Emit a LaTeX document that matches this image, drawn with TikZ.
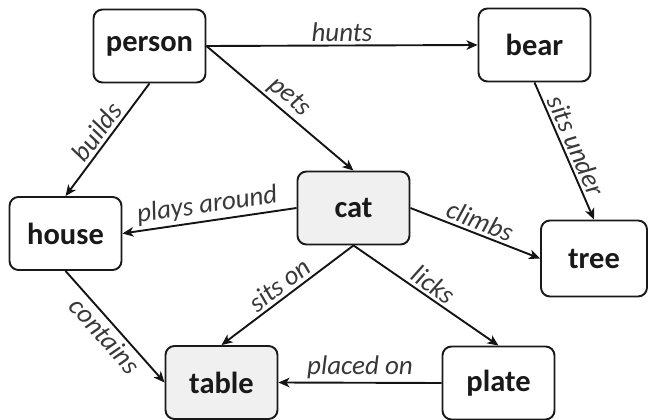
\documentclass[tikz,border=0pt]{standalone}
\usepackage{fontspec}
\setmainfont{Carlito}
\usetikzlibrary{arrows.meta}
\definecolor{boxfill}{gray}{0.94}
\definecolor{labelgray}{gray}{0.22}
\tikzset{
  concept/.style={draw=black!90, line width=1.9pt, rounded corners=9pt,
    minimum width=112pt, minimum height=73pt, inner sep=0pt,
    font=\fontsize{30.5}{35}\selectfont\bfseries, text=black!90},
  shaded/.style={concept, fill=boxfill},
  rel/.style={line width=1.9pt, draw=black!92,
    -{Stealth[length=11pt,width=9.5pt,inset=3pt]}},
  rlabel/.style={midway, above, sloped, inner sep=3pt,
    font=\fontsize{27}{32}\selectfont\itshape, text=labelgray},
}
\begin{document}
\begin{tikzpicture}[x=1pt,y=-1pt]
  \useasboundingbox (0,0) rectangle (649,420);
  % concepts
  \node[concept] (person) at (149.5,46) {person};
  \node[concept] (bear)   at (534.5,45) {bear};
  \node[concept] (house)  at (65.5,233.5) {house};
  \node[shaded]  (cat)    at (353.5,208) {cat};
  \node[concept, minimum width=106pt, minimum height=76pt] (tree) at (594,258.5) {tree};
  \node[shaded]  (table)  at (221.5,382.5) {table};
  \node[concept] (plate)  at (498.5,383) {plate};
  % relations
  \draw[rel] (person.east) -- node[rlabel] {hunts} (bear.west);
  \draw[rel] (person.east) -- node[rlabel] {pets} (cat.north);
  \draw[rel] (person.south) -- node[rlabel] {builds} (house.north);
  \draw[rel] (bear.south) -- node[rlabel] {sits under} (tree.north);
  \draw[rel] (cat.west) -- node[rlabel] {plays around} (house.east);
  \draw[rel] (cat.east) -- node[rlabel] {climbs} (tree.west);
  \draw[rel] (cat.south) -- node[rlabel] {sits on} (table.north);
  \draw[rel] (cat.south) -- node[rlabel] {licks} (plate.north);
  \draw[rel] (house.south) -- node[rlabel, below] {contains} (table.west);
  \draw[rel] (plate.west) -- node[rlabel] {placed on} (table.east);
\end{tikzpicture}
\end{document}
